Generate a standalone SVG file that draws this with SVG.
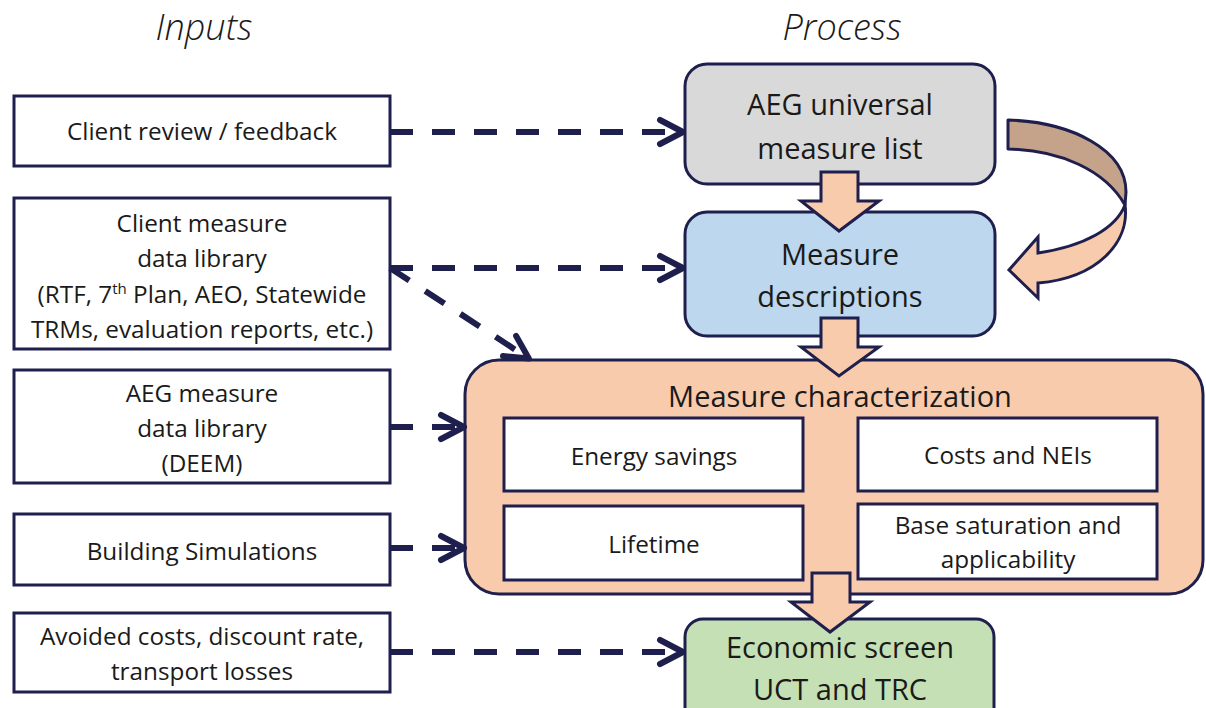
<svg xmlns="http://www.w3.org/2000/svg" width="1206" height="708" viewBox="0 0 1206 708">
<style>
text{font-family:"Open Sans","Noto Sans","Liberation Sans",sans-serif;fill:#1a1a1a;text-anchor:middle}
.hdr{font-size:36px;font-style:italic;font-weight:300}
.in{fill:#fff;stroke:#1f1f4e;stroke-width:3}
.t24{font-size:24.3px}
.t29{font-size:29px}
.t22{font-size:24.3px}
.dash{fill:none;stroke:#1f1f4e;stroke-width:6;stroke-dasharray:23 19}
.blk{fill:#f8cbad;stroke:#1f1f4e;stroke-width:3;stroke-linejoin:miter}
.pb{stroke:#1f1f4e;stroke-width:3}
</style>
<defs>
<marker id="chev" viewBox="0 0 32 32" markerWidth="32" markerHeight="32" refX="26" refY="16" orient="auto" markerUnits="userSpaceOnUse">
<path d="M4,4 L27,16 L4,28" fill="none" stroke="#1f1f4e" stroke-width="6" stroke-linecap="round" stroke-linejoin="round"/>
</marker>
</defs>
<rect width="1206" height="708" fill="#fff"/>
<text class="hdr" x="204" y="40">Inputs</text>
<text class="hdr" x="842" y="40">Process</text>

<g id="in-client-review">
<rect class="in" x="14" y="96" width="376" height="70"/>
<text class="t24" x="202" y="140">Client review / feedback</text>
</g>
<g id="in-client-library">
<rect class="in" x="14" y="198" width="376" height="151"/>
<text class="t24" x="202" y="232">Client measure</text>
<text class="t24" x="202" y="267">data library</text>
<text class="t24" x="202" y="303">(RTF, 7<tspan font-size="15" dy="-9">th</tspan><tspan dy="9"> Plan, AEO, Statewide</tspan></text>
<text class="t24" x="202" y="338">TRMs, evaluation reports, etc.)</text>
</g>
<g id="in-aeg-library">
<rect class="in" x="14" y="370" width="376" height="113"/>
<text class="t24" x="202" y="402">AEG measure</text>
<text class="t24" x="202" y="437">data library</text>
<text class="t24" x="202" y="472">(DEEM)</text>
</g>
<g id="in-building">
<rect class="in" x="14" y="514" width="376" height="71"/>
<text class="t24" x="202" y="560">Building Simulations</text>
</g>
<g id="in-avoided">
<rect class="in" x="14" y="613" width="376" height="79"/>
<text class="t24" x="202" y="645">Avoided costs, discount rate,</text>
<text class="t24" x="202" y="680">transport losses</text>
</g>

<g id="p-universal">
<rect x="685" y="64" width="310" height="120" rx="22" fill="#d9d9d9" class="pb"/>
<text class="t29" x="840" y="115">AEG universal</text>
<text class="t29" x="840" y="159">measure list</text>
</g>
<g id="p-descriptions">
<rect x="685" y="212" width="310" height="124" rx="22" fill="#bdd7ee" class="pb"/>
<text class="t29" x="840" y="265">Measure</text>
<text class="t29" x="840" y="307">descriptions</text>
</g>
<g id="p-characterization">
<rect x="465" y="360" width="738" height="234" rx="34" fill="#f8cbad" class="pb"/>
<text class="t29" x="840" y="407">Measure characterization</text>
<g id="c-energy">
<rect class="in" x="504" y="418" width="299" height="73"/>
<text class="t22" x="654" y="465">Energy savings</text>
</g>
<g id="c-costs">
<rect class="in" x="858" y="418" width="299" height="73"/>
<text class="t22" x="1008" y="464">Costs and NEIs</text>
</g>
<g id="c-lifetime">
<rect class="in" x="504" y="506" width="299" height="74"/>
<text class="t22" x="654" y="553">Lifetime</text>
</g>
<g id="c-base">
<rect class="in" x="858" y="504" width="299" height="75"/>
<text class="t22" x="1008" y="534">Base saturation and</text>
<text class="t22" x="1008" y="568">applicability</text>
</g>
</g>
<g id="p-economic">
<rect x="685" y="619" width="309" height="110" rx="18" fill="#c5e0b4" class="pb"/>
<text class="t29" x="840" y="658">Economic screen</text>
<text class="t29" x="840" y="700">UCT and TRC</text>
</g>

<g id="connectors">
<path class="dash" d="M390,132 H682" marker-end="url(#chev)"/>
<path class="dash" d="M390,268 H682" marker-end="url(#chev)"/>
<path class="dash" d="M390,268 L528,358" marker-end="url(#chev)"/>
<path class="dash" d="M390,427 H463" marker-end="url(#chev)"/>
<path class="dash" d="M390,548 H463" marker-end="url(#chev)"/>
<path class="dash" d="M390,652 H682" marker-end="url(#chev)"/>
<path class="blk" d="M821,172 H858 V201 H879 L839,231 L801,201 H821 Z"/>
<path class="blk" d="M821,318 H858 V347 H879 L839,376 L801,347 H821 Z"/>
<path class="blk" d="M812,573 H850 V602 H870 L830,632 L791,602 H812 Z"/>
<path d="M1008,120 C1072,122 1126,150 1126,192 L1125,205 C1105,170 1060,150 1008,149 Z" fill="#c5a28a" stroke="#1f1f4e" stroke-width="3" stroke-linejoin="round"/>
<path d="M1125,205 C1130,242 1098,278 1038,283 L1038,298 L1009,270 L1038,237 L1038,253 C1085,246 1116,228 1125,205 Z" fill="#f8cbad" stroke="#1f1f4e" stroke-width="3" stroke-linejoin="miter"/>
</g>
</svg>
